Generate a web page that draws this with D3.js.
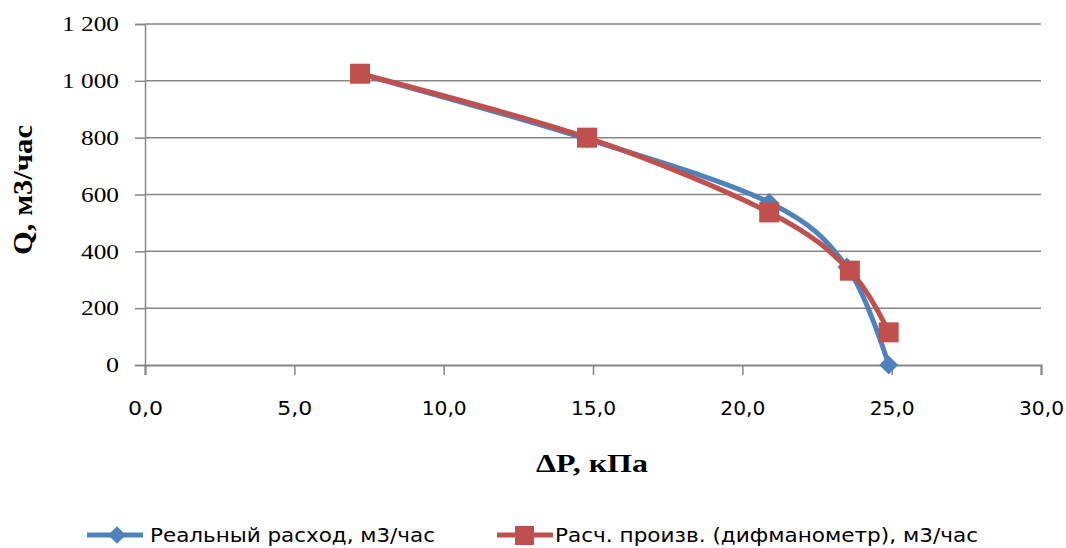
<!DOCTYPE html>
<html>
<head>
<meta charset="utf-8">
<script src="https://cdn.jsdelivr.net/npm/d3@7"></script>
<style>
  body { margin: 0; background: #fff; }
  svg { display: block; }
</style>
</head>
<body>
<svg id="chart" width="1066" height="548"></svg>
<script>
// data
const realDP = [7.2, 14.8, 20.9, 23.5, 24.9];
const realQ = [1025, 795, 572, 345, 0];
const calcDP = [7.2, 14.8, 20.9, 23.6, 24.9];
const calcQ = [1025, 800, 537, 332, 115];
const xTicks = [0, 5, 10, 15, 20, 25, 30];
const yTicks = [0, 200, 400, 600, 800, 1000, 1200];
const seriesNames = ["Реальный расход, м3/час", "Расч. произв. (дифманометр), м3/час"];

const svg = d3.select("#chart");
const margin = { left: 145, right: 25, top: 24, bottom: 183 };
const W = 1066, H = 548;

const x = d3.scaleLinear().domain([0, 30]).range([margin.left, W - margin.right]);
const y = d3.scaleLinear().domain([0, 1200]).range([H - margin.bottom, margin.top]);

const grey = "#868686";

// horizontal grid
svg.append("g").selectAll("line")
  .data(yTicks.filter(d => d > 0))
  .join("line")
  .attr("x1", x(0)).attr("x2", x(30))
  .attr("y1", d => y(d)).attr("y2", d => y(d))
  .style("stroke", grey).style("stroke-width", 1.5);

// y axis
const yAxis = svg.append("g")
  .attr("transform", `translate(${x(0)},0)`)
  .call(d3.axisLeft(y).tickValues(yTicks).tickSize(10).tickPadding(16)
    .tickFormat(d => d >= 1000 ? "1 " + String(d).slice(1) : d));
yAxis.select(".domain").style("stroke", grey).style("stroke-width", 1.5);
yAxis.selectAll(".tick line").style("stroke", grey).style("stroke-width", 1.5);
yAxis.selectAll("text")
  .attr("textLength", d => d >= 1000 ? 57 : d === 0 ? 13 : 38)
  .attr("lengthAdjust", "spacingAndGlyphs")
  .style("font-family", "'Liberation Serif', 'Times New Roman', serif")
  .style("font-size", "21px").style("fill", "#000");

// x axis
const xAxis = svg.append("g")
  .attr("transform", `translate(0,${y(0)})`)
  .call(d3.axisBottom(x).tickValues(xTicks).tickSize(10).tickPadding(26)
    .tickFormat(d => d3.format(".1f")(d).replace(".", ",")));
xAxis.select(".domain").style("stroke", grey).style("stroke-width", 2);
xAxis.selectAll(".tick line").style("stroke", grey).style("stroke-width", 1.5);
xAxis.selectAll("text")
  .attr("textLength", d => d >= 10 ? 45 : 35)
  .attr("lengthAdjust", "spacingAndGlyphs")
  .style("font-family", "'DejaVu Sans Condensed', 'DejaVu Sans', sans-serif")
  .style("font-stretch", "condensed")
  .style("font-size", "20px").style("fill", "#000");

// axis titles
svg.append("text")
  .attr("transform", "translate(32,190) rotate(-90)")
  .attr("text-anchor", "middle")
  .attr("textLength", 130).attr("lengthAdjust", "spacingAndGlyphs")
  .style("font-family", "'Liberation Serif', 'Times New Roman', serif")
  .style("font-weight", "bold").style("font-size", "28px")
  .text("Q, м3/час");

svg.append("text")
  .attr("x", 592).attr("y", 472)
  .attr("text-anchor", "middle")
  .attr("textLength", 112).attr("lengthAdjust", "spacingAndGlyphs")
  .style("font-family", "'Liberation Serif', 'Times New Roman', serif")
  .style("font-weight", "bold").style("font-size", "26px")
  .text("ΔP, кПа");

// lines
const line = d3.line().x(d => x(d[0])).y(d => y(d[1])).curve(d3.curveCardinal.tension(0));
const realPts = realDP.map((d, i) => [d, realQ[i]]);
const calcPts = calcDP.map((d, i) => [d, calcQ[i]]);

const blue = "#4F81BD", red = "#C0504D";

svg.append("path").datum(realPts).attr("d", line)
  .style("fill", "none").style("stroke", blue).style("stroke-width", 5);
svg.append("g").selectAll("path")
  .data(realPts).join("path")
  .attr("transform", d => `translate(${x(d[0])},${y(d[1])})`)
  .attr("d", d3.symbol(d3.symbolDiamond2, 230)())
  .style("fill", blue);

svg.append("path").datum(calcPts).attr("d", line)
  .style("fill", "none").style("stroke", red).style("stroke-width", 5);
svg.append("g").selectAll("rect")
  .data(calcPts).join("rect")
  .attr("x", d => x(d[0]) - 10).attr("y", d => y(d[1]) - 10)
  .attr("width", 20).attr("height", 20)
  .style("fill", red);

// legend
const legend = [
  { name: seriesNames[0], color: blue, lx: 87, tx: 150, tw: 285, sym: "diamond" },
  { name: seriesNames[1], color: red, lx: 497, tx: 555, tw: 423, sym: "square" }
];
const ly = 535;
const lg = svg.append("g").selectAll("g").data(legend).join("g");
lg.append("line")
  .attr("x1", d => d.lx).attr("x2", d => d.lx + 56)
  .attr("y1", ly).attr("y2", ly)
  .style("stroke", d => d.color).style("stroke-width", 5);
lg.filter(d => d.sym === "diamond").append("path")
  .attr("transform", d => `translate(${d.lx + 30},${ly})`)
  .attr("d", d3.symbol(d3.symbolDiamond2, 200)())
  .style("fill", d => d.color);
lg.filter(d => d.sym === "square").append("rect")
  .attr("x", d => d.lx + 18).attr("y", ly - 9)
  .attr("width", 19).attr("height", 19)
  .style("fill", d => d.color);
lg.append("text")
  .attr("x", d => d.tx).attr("y", ly + 7)
  .attr("textLength", d => d.tw).attr("lengthAdjust", "spacingAndGlyphs")
  .style("font-family", "'DejaVu Sans Condensed', 'DejaVu Sans', sans-serif")
  .style("font-stretch", "condensed")
  .style("font-size", "19px").style("fill", "#000")
  .text(d => d.name);
</script>
</body>
</html>
